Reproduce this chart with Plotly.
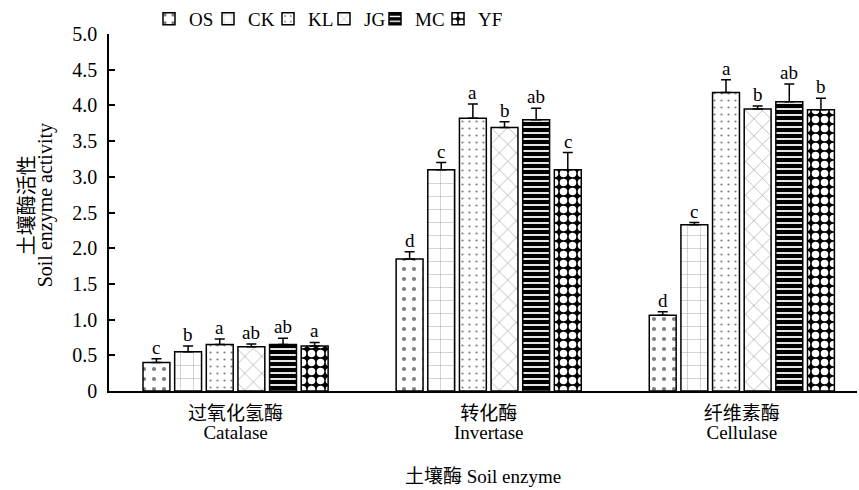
import plotly.graph_objects as go

# Enzyme categories (Chinese / English) and treatments
enzymes_cn = ["过氧化氢酶", "转化酶", "纤维素酶"]
enzymes_en = ["Catalase", "Invertase", "Cellulase"]
treatments = ["OS", "CK", "KL", "JG", "MC", "YF"]

# Mean activity per treatment, ordered Catalase, Invertase, Cellulase
os_mean = [0.40, 1.85, 1.06]
ck_mean = [0.55, 3.10, 2.33]
kl_mean = [0.65, 3.82, 4.18]
jg_mean = [0.62, 3.69, 3.95]
mc_mean = [0.65, 3.80, 4.05]
yf_mean = [0.63, 3.10, 3.94]

# Standard errors
os_err = [0.05, 0.10, 0.05]
ck_err = [0.08, 0.10, 0.03]
kl_err = [0.08, 0.20, 0.18]
jg_err = [0.04, 0.08, 0.04]
mc_err = [0.09, 0.16, 0.25]
yf_err = [0.05, 0.24, 0.16]

# Significance letters
os_sig = ["c", "d", "d"]
ck_sig = ["b", "c", "c"]
kl_sig = ["a", "a", "a"]
jg_sig = ["ab", "b", "b"]
mc_sig = ["ab", "ab", "ab"]
yf_sig = ["a", "c", "b"]

y_ticks = [0, 0.5, 1.0, 1.5, 2.0, 2.5, 3.0, 3.5, 4.0, 4.5, 5.0]
y_ticktext = ["0", "0.5", "1.0", "1.5", "2.0", "2.5", "3.0", "3.5", "4.0", "4.5", "5.0"]

means = [os_mean, ck_mean, kl_mean, jg_mean, mc_mean, yf_mean]
errs = [os_err, ck_err, kl_err, jg_err, mc_err, yf_err]
sigs = [os_sig, ck_sig, kl_sig, jg_sig, mc_sig, yf_sig]

# Hatch-like fill patterns for each treatment
patterns = [
    dict(shape=".", size=10, solidity=0.14, fgcolor="black", bgcolor="white"),
    dict(shape="+", size=13, solidity=0.06, fgcolor="#222", bgcolor="white"),
    dict(shape=".", size=7, solidity=0.08, fgcolor="black", bgcolor="white"),
    dict(shape="x", size=12, solidity=0.08, fgcolor="black", bgcolor="white"),
    dict(shape="-", size=6, solidity=0.3, fgcolor="white", bgcolor="black", fillmode="replace"),
    dict(shape=".", size=9, solidity=0.55, fgcolor="white", bgcolor="black", fillmode="replace"),
]
# Extra width of each legend entry beyond its symbol, in px
legend_widths = [14, 15, 11, 6, 18, 30]

FONT = "Liberation Serif, Times New Roman, Noto Sans CJK SC, serif"
BARGAP = 0.25
GROUPGAP = 0.15

x_pos = list(range(len(enzymes_en)))

fig = go.Figure()
for name, m, e, pat, lw in zip(treatments, means, errs, patterns, legend_widths):
    fig.add_trace(go.Bar(
        name=name, x=x_pos, y=m, legendwidth=lw,
        marker=dict(color="white", line=dict(color="black", width=1.5), pattern=pat),
        error_y=dict(type="data", array=e, arrayminus=[0] * len(e), symmetric=False,
                     color="black", thickness=1.5, width=5),
    ))

# Letters above the error bars
slot = (1 - BARGAP) / len(treatments)
annotations = []
for j, (m, e, s) in enumerate(zip(means, errs, sigs)):
    for i in x_pos:
        annotations.append(dict(
            x=i + (j - (len(treatments) - 1) / 2) * slot, y=m[i] + e[i],
            xref="x", yref="y", text=s[i], showarrow=False,
            yanchor="bottom", yshift=-1, font=dict(family=FONT, size=19, color="black"),
        ))

# Two-line y-axis title
annotations.append(dict(
    text="<span style='font-size:20px'>土壤酶活性</span><br><span style='font-size:20px'>Soil enzyme activity</span>",
    xref="paper", yref="paper", x=0.0, xshift=-72, y=0.52, textangle=-90,
    xanchor="center", yanchor="middle", showarrow=False,
    font=dict(family=FONT, size=14.5, color="black"),
))

tick_text = [f"<span style='font-size:19px'>{c}</span><br><span style='font-size:19px'>{en}</span>"
             for c, en in zip(enzymes_cn, enzymes_en)]

fig.update_layout(
    width=859, height=490,
    margin=dict(l=109, r=2, t=34, b=99, autoexpand=False),
    paper_bgcolor="white", plot_bgcolor="white",
    barmode="group", bargap=BARGAP, bargroupgap=GROUPGAP,
    font=dict(family=FONT, size=19, color="black"),
    annotations=annotations,
    showlegend=True,
    legend=dict(orientation="h", xref="container", yref="container",
                x=149 / 859, y=1, xanchor="left", yanchor="top",
                font=dict(family=FONT, size=19), bgcolor="rgba(0,0,0,0)",
                itemclick=False),
    xaxis=dict(
        range=[-0.5, 2.455], tickvals=x_pos, ticktext=tick_text,
        tickfont=dict(family=FONT, size=15), ticks="", ticklabelstandoff=9,
        showline=True, linecolor="black", linewidth=1.5, showgrid=False, zeroline=False,
        title=dict(text="土壤酶 Soil enzyme", font=dict(family=FONT, size=19), standoff=27),
    ),
    yaxis=dict(
        range=[0, 5], tickvals=y_ticks, ticktext=y_ticktext,
        tickfont=dict(family=FONT, size=20), ticks="inside", ticklen=6, tickwidth=1.5,
        tickcolor="black", ticklabelstandoff=6,
        showline=True, linecolor="black", linewidth=1.5, showgrid=False, zeroline=False,
    ),
)

fig.write_html("out.html")
